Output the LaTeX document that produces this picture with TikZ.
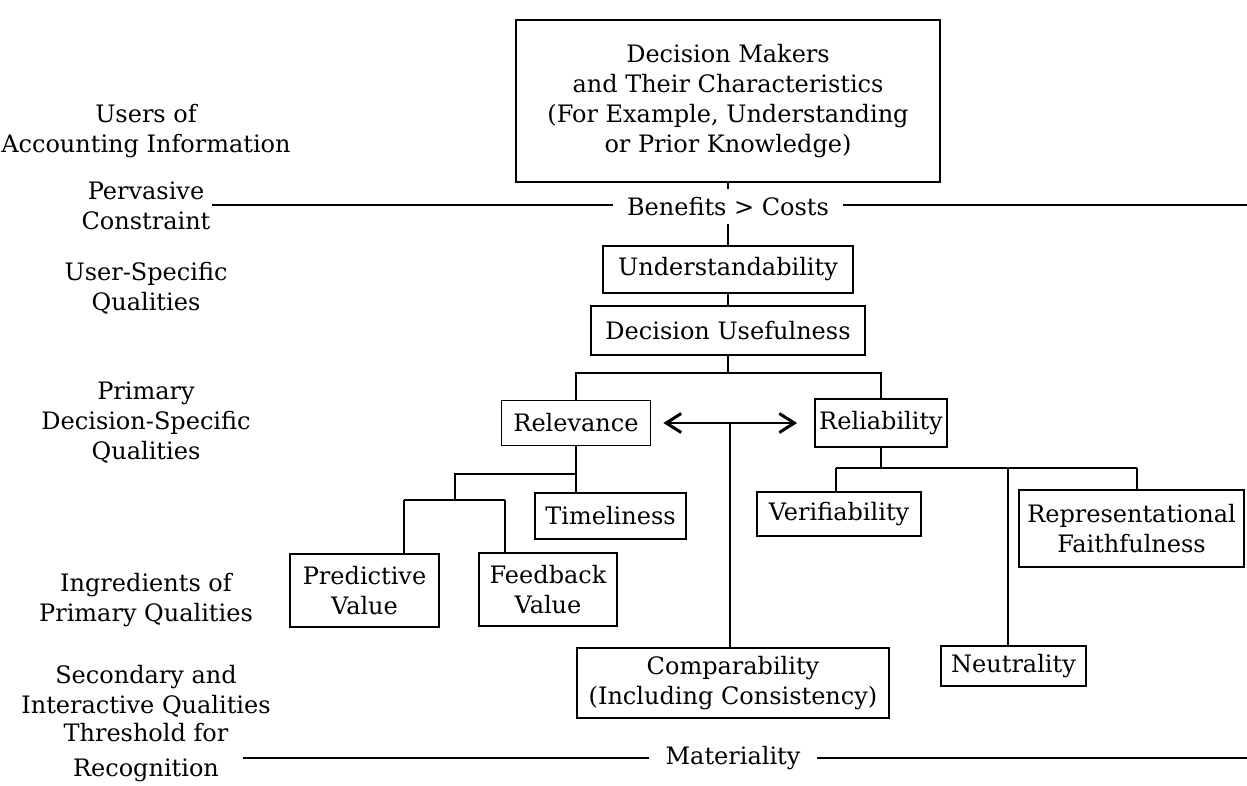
\documentclass[tikz,border=0pt]{standalone}
\usepackage{fontspec}
\setmainfont{DejaVu Serif}
\usetikzlibrary{arrows.meta}
\begin{document}
\begin{tikzpicture}[x=1pt,y=-1pt,line width=1.8pt,
  every node/.style={font=\fontsize{24}{30}\selectfont},
  box/.style={draw,inner sep=2pt,align=center},
  lab/.style={align=center},
  plain/.style={inner ysep=0pt},
  >={Straight Barb[length=15pt,width=19pt,line width=3pt]}]
\useasboundingbox (0,0) rectangle (1247,785);

% left labels
\node[lab] (l1) at (146,131) {Users of\\Accounting Information};
\node[lab] (l2) at (146,206) {Pervasive\\Constraint};
\node[lab] (l3) at (146,288) {User-Specific\\Qualities};
\node[lab] (l4) at (146,423) {Primary\\Decision-Specific\\Qualities};
\node[lab] (l5) at (146,600) {Ingredients of\\Primary Qualities};
\node[lab] (l6) at (146,691) {Secondary and\\Interactive Qualities};
\node[lab] (l7) at (146,753) {Threshold for\\[5pt]Recognition};

% boxes
\node[box,minimum width=424,minimum height=162] (dm) at (728,101)
  {Decision Makers\\and Their Characteristics\\(For Example, Understanding\\or Prior Knowledge)};
\node[plain,inner xsep=13pt,minimum height=33] (bc) at (728,206.5) {Benefits > Costs};
\node[box,minimum width=250,minimum height=47] (und) at (728,269.5) {Understandability};
\node[box,minimum width=274,minimum height=49] (du) at (728,330.5) {Decision Usefulness};
\node[box,minimum width=149,minimum height=45] (relv) at (576,423) {Relevance};
\node[box,minimum width=132,minimum height=48] (reli) at (881,423) {Reliability};
\node[box,minimum width=151,minimum height=46] (tim) at (610.5,516) {Timeliness};
\node[box,minimum width=164,minimum height=44] (ver) at (839,514) {Verifiability};
\node[box,minimum width=225,minimum height=77] (rf) at (1131.5,528.5) {Representational\\Faithfulness};
\node[box,minimum width=149,minimum height=73] (pred) at (364.5,590.5) {Predictive\\Value};
\node[box,minimum width=138,minimum height=73] (feed) at (548,589.5) {Feedback\\Value};
\node[box,minimum width=312,minimum height=70] (comp) at (733,683) {Comparability\\(Including Consistency)};
\node[box,minimum width=145,minimum height=40] (neut) at (1013.5,666) {Neutrality};
\node[plain,inner xsep=16pt,minimum height=30] (mat) at (733,758) {Materiality};

% pervasive constraint line
\coordinate (pl) at (212,205);
\coordinate (pr) at (1247,205);
\draw (pl) -- (pl -| bc.west);
\draw (bc.east |- pr) -- (pr);
\draw (dm.south) -- (bc.north);
\draw (bc.south) -- (und.north);
\draw (und.south) -- (du.north);

% decision usefulness split
\draw (du.south) -- ++(0,17) coordinate (j1);
\draw (j1) -| (relv.north);
\draw (j1) -| (reli.north);

% relevance subtree
\draw (relv.south) -- (relv.south |- tim.north);
\coordinate (j2) at (576,474);
\coordinate (j3) at (455,474);
\coordinate (j4) at (455,500);
\coordinate (p1) at (404,500);
\coordinate (p2) at (505,500);
\draw (j2) -- (j3) -- (j4);
\draw (p1) -- (p2);
\draw (p1) -- (p1 |- pred.north);
\draw (p2) -- (p2 |- feed.north);

% reliability subtree
\draw (reli.south) -- ++(0,21) coordinate (k1);
\coordinate (k2) at (836,468);
\coordinate (k3) at (1137,468);
\coordinate (k4) at (1008,468);
\draw (k2) -- (k3);
\draw (k2) -- (k2 |- ver.north);
\draw (k4) -- (k4 |- neut.north);
\draw (k3) -- (k3 |- rf.north);

% arrow between relevance and reliability
\draw[<->] ([xshift=12]relv.east) -- coordinate[pos=0.5] (mid) ([xshift=-17]reli.west);
\draw (mid) -- (mid |- comp.north);

% materiality line
\coordinate (ml) at (243,758);
\coordinate (mr) at (1247,758);
\draw (ml) -- (mat.west);
\draw (mat.east) -- (mr);
\end{tikzpicture}
\end{document}
